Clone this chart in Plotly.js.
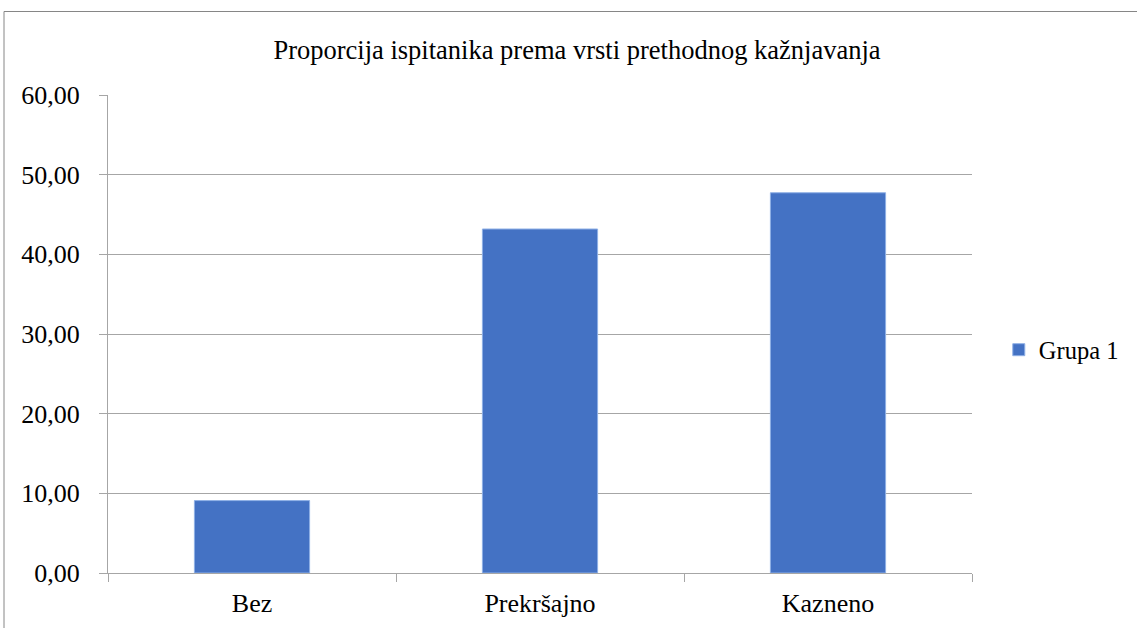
<!DOCTYPE html>
<html>
<head>
<meta charset="utf-8">
<script src="https://cdn.plot.ly/plotly-3.0.1.min.js"></script>
<style>
  html, body { margin: 0; padding: 0; background: #fff; }
  #chart { width: 1137px; height: 628px; }
</style>
</head>
<body>
<div id="chart"></div>
<script>
const categories = ["Bez", "Prekršajno", "Kazneno"];
const seriesName = "Grupa 1";
const values = [9.09, 43.18, 47.73];
const yTickValues = [0, 10, 20, 30, 40, 50, 60];
const chartTitle = "Proporcija ispitanika prema vrsti prethodnog kažnjavanja";

const serif = "Liberation Serif";
const gridColor = "#a6a6a6";

const trace = {
  type: "bar",
  x: categories,
  y: values,
  name: seriesName,
  marker: { color: "#4472c4", line: { color: "#8fb0e6", width: 1 } },
  showlegend: true,
  hoverinfo: "x+y"
};

const layout = {
  width: 1137,
  height: 628,
  paper_bgcolor: "#ffffff",
  plot_bgcolor: "#ffffff",
  margin: { l: 108, r: 165, t: 95, b: 55, pad: 0 },
  separators: ",.",
  bargap: 0.6,
  title: {
    text: chartTitle,
    font: { family: serif, size: 26.5, color: "#000000" },
    x: (577 - 108) / 864, xref: "paper", xanchor: "center",
    y: 1 - 50 / 628, yref: "container", yanchor: "middle"
  },
  xaxis: {
    type: "category",
    showgrid: false,
    showline: true,
    linecolor: gridColor,
    linewidth: 1,
    ticks: "outside",
    tickson: "boundaries",
    ticklen: 8,
    tickcolor: gridColor,
    tickfont: { family: serif, size: 26, color: "#000000" },
    ticklabelstandoff: 7,
    zeroline: false,
    fixedrange: true
  },
  yaxis: {
    range: [0, 60],
    tickvals: yTickValues,
    tickformat: ".2f",
    showgrid: true,
    gridcolor: gridColor,
    gridwidth: 1,
    showline: true,
    linecolor: gridColor,
    linewidth: 1,
    ticks: "outside",
    ticklen: 8,
    tickcolor: gridColor,
    tickfont: { family: serif, size: 26, color: "#000000" },
    ticklabelstandoff: 14,
    zeroline: false,
    fixedrange: true
  },
  legend: {
    x: 1.031, xanchor: "left",
    y: 0.467, yanchor: "middle",
    font: { family: serif, size: 24.5, color: "#000000" },
    bgcolor: "rgba(0,0,0,0)"
  },
  shapes: [
    {
      type: "rect", xref: "paper", yref: "paper",
      x0: (4 - 108) / 864, x1: (1150 - 108) / 864,
      y0: (573 - 640) / 478, y1: (573 - 11.5) / 478,
      line: { color: "#868686", width: 1 },
      fillcolor: "rgba(0,0,0,0)",
      layer: "below"
    }
  ],
  showlegend: true
};

Plotly.newPlot("chart", [trace], layout, { displayModeBar: false });
</script>
</body>
</html>
